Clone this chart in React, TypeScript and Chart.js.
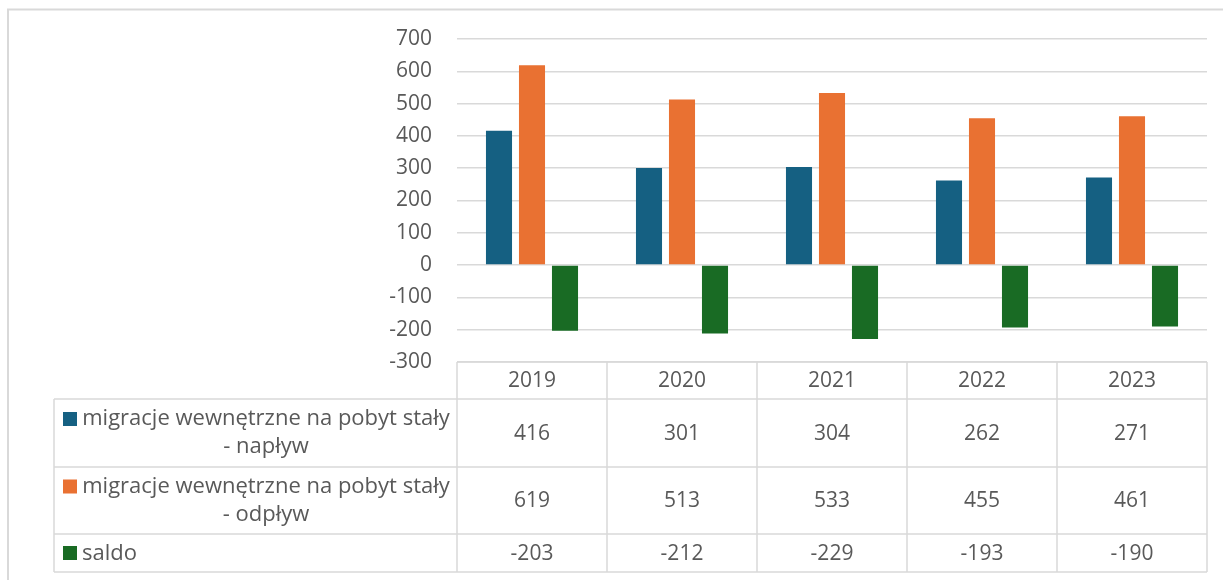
import React, { useEffect, useRef } from "react";
import { Chart, registerables } from "chart.js";

Chart.register(...registerables);

// Internal permanent-residence migration, 2019–2023
const years = ["2019", "2020", "2021", "2022", "2023"];
const inflow = [416, 301, 304, 262, 271];
const outflow = [619, 513, 533, 455, 461];
const balance = [-203, -212, -229, -193, -190];

const seriesLabels = [
  ["migracje wewnętrzne na pobyt stały", "- napływ"],
  ["migracje wewnętrzne na pobyt stały", "- odpływ"],
  ["saldo"],
];
const seriesColors = ["#156082", "#E97132", "#196B24"];

const yMin = -300;
const yMax = 700;
const yStep = 100;

const FONT = "'Open Sans', 'Noto Sans', sans-serif";
const TEXT = "#595959";
const LINE = "#d9d9d9";
const NUM_SIZE = 21;
const LABEL_SIZE = 22;

// Data table drawn under the plot, one column per year
const dataTablePlugin = {
  id: "dataTable",
  afterDraw(chart: any) {
    const ctx: CanvasRenderingContext2D = chart.ctx;
    const area = chart.chartArea;
    const xs = chart.scales.x;
    const n = years.length;
    const colW = (area.right - area.left) / n;
    const tableLeft = 54;
    const headerTop = area.bottom;
    const rowBounds = [headerTop, headerTop + 37, headerTop + 105, headerTop + 172, headerTop + 210];
    const values = [inflow, outflow, balance];

    ctx.save();
    // outer chart frame
    ctx.strokeStyle = LINE;
    ctx.lineWidth = 2;
    ctx.beginPath();
    ctx.moveTo(8, chart.height);
    ctx.lineTo(8, 9.5);
    ctx.lineTo(chart.width, 9.5);
    ctx.stroke();

    // table grid
    ctx.lineWidth = 1.5;
    ctx.beginPath();
    ctx.moveTo(area.left, rowBounds[0]);
    ctx.lineTo(area.right, rowBounds[0]);
    for (let r = 1; r < rowBounds.length; r++) {
      ctx.moveTo(tableLeft, rowBounds[r]);
      ctx.lineTo(area.right, rowBounds[r]);
    }
    for (let i = 0; i <= n; i++) {
      const x = area.left + i * colW;
      ctx.moveTo(x, rowBounds[0]);
      ctx.lineTo(x, rowBounds[rowBounds.length - 1]);
    }
    ctx.moveTo(tableLeft, rowBounds[1]);
    ctx.lineTo(tableLeft, rowBounds[rowBounds.length - 1]);
    ctx.stroke();

    ctx.fillStyle = TEXT;
    ctx.font = `${NUM_SIZE}px ${FONT}`;
    ctx.textBaseline = "middle";
    ctx.textAlign = "center";

    // header row: years
    const headY = (rowBounds[0] + rowBounds[1]) / 2;
    years.forEach((y, i) => {
      ctx.fillText(y, xs.getPixelForValue(i), headY + 1);
    });

    // series rows
    const keyX = 63;
    const keySize = 14;
    const textLeft = 82;
    const textRight = area.left - 7;
    const lineH = 28;
    values.forEach((vals, s) => {
      const top = rowBounds[s + 1];
      const bottom = rowBounds[s + 2];
      const midY = (top + bottom) / 2;
      const lines = seriesLabels[s];
      ctx.fillStyle = TEXT;
      ctx.textAlign = "center";
      ctx.font = `${NUM_SIZE}px ${FONT}`;
      vals.forEach((v, i) => {
        ctx.fillText(String(v), xs.getPixelForValue(i), midY + 1);
      });
      ctx.font = `${LABEL_SIZE}px ${FONT}`;
      if (lines.length > 1) {
        const firstY = midY - ((lines.length - 1) * lineH) / 2;
        const cx = (textLeft + textRight) / 2;
        lines.forEach((t, k) => ctx.fillText(t, cx, firstY + k * lineH));
        ctx.fillStyle = seriesColors[s];
        ctx.fillRect(keyX, firstY - keySize / 2, keySize, keySize);
      } else {
        ctx.textAlign = "left";
        ctx.fillText(lines[0], textLeft, midY + 1);
        ctx.fillStyle = seriesColors[s];
        ctx.fillRect(keyX, midY - keySize / 2, keySize, keySize);
      }
    });
    ctx.restore();
  },
};

export default function App() {
  const canvasRef = useRef<HTMLCanvasElement | null>(null);

  useEffect(() => {
    const canvas = canvasRef.current;
    if (!canvas) return;
    const chart = new Chart(canvas, {
      type: "bar",
      data: {
        labels: years,
        datasets: [
          { label: seriesLabels[0].join(" "), data: inflow, backgroundColor: seriesColors[0] },
          { label: seriesLabels[1].join(" "), data: outflow, backgroundColor: seriesColors[1] },
          { label: seriesLabels[2].join(" "), data: balance, backgroundColor: seriesColors[2] },
        ],
      },
      options: {
        responsive: false,
        animation: false,
        devicePixelRatio: 1,
        layout: { padding: { top: 39, bottom: 218, left: 0, right: 16 } },
        datasets: {
          bar: { categoryPercentage: 0.66, barPercentage: 0.79, borderWidth: 0 },
        },
        plugins: {
          legend: { display: false },
          tooltip: { enabled: false },
          title: { display: false },
        },
        scales: {
          x: {
            display: false,
            grid: { display: false },
          },
          y: {
            min: yMin,
            max: yMax,
            border: { display: false },
            grid: { color: LINE, lineWidth: 1.5, drawTicks: false },
            ticks: {
              stepSize: yStep,
              padding: 25,
              color: TEXT,
              font: { family: FONT, size: NUM_SIZE },
            },
            afterFit(scale: any) {
              scale.width = 457;
            },
          },
        },
      },
      plugins: [dataTablePlugin],
    });
    return () => chart.destroy();
  }, []);

  return (
    <div style={{ position: "absolute", left: 0, top: 0, width: 1223, height: 580, background: "#fff" }}>
      <canvas ref={canvasRef} width={1223} height={580} style={{ display: "block" }} />
    </div>
  );
}
